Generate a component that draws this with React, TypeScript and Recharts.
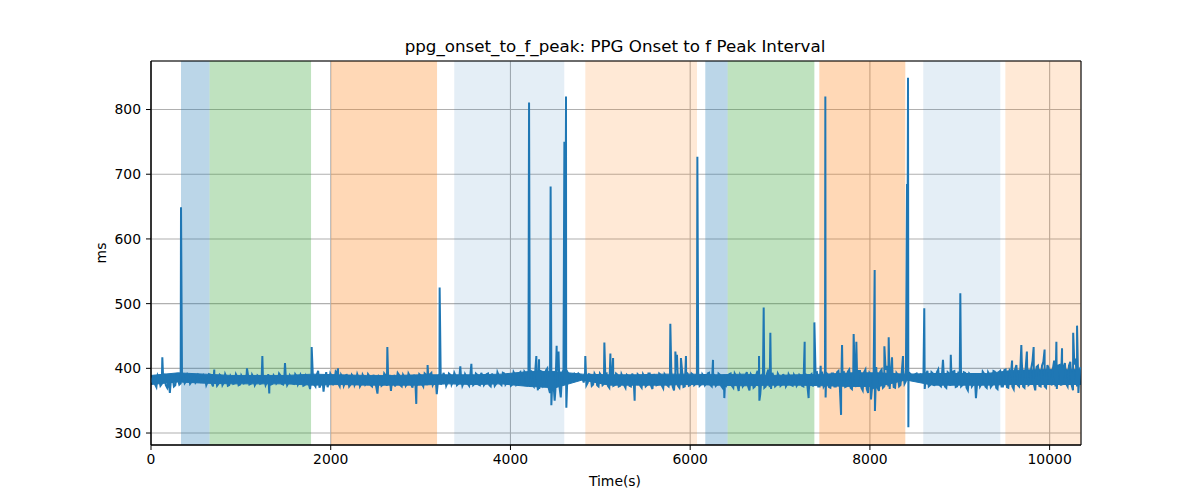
import { ComposedChart, Line, Area, XAxis, YAxis, CartesianGrid, ReferenceArea } from 'recharts'

// baseline readings, one every 30 s starting at t = 0
const sampleStep = 30
const baseValues = [
  378, 387, 371, 385, 376, 389, 370, 362, 386, 374, 383, 377, 388, 380, 386, 379, 387, 381, 388, 380,
  386, 379, 390, 372, 385, 376, 388, 378, 386, 374, 384, 377, 387, 375, 385, 379, 389, 376, 386, 378,
  387, 377, 385, 379, 388, 376, 386, 380, 389, 375, 387, 378, 385, 376, 388, 379, 386, 374, 383, 368,
  392, 372, 396, 375, 364, 394, 378, 388, 380, 392, 372, 386, 378, 384, 375, 387, 379, 385, 376, 386,
  378, 388, 372, 384, 361, 386, 375, 389, 378, 365, 387, 378, 390, 372, 386, 376, 388, 370, 385, 377,
  389, 372, 390, 376, 393, 378, 360, 392, 380, 387, 378, 390, 380, 388, 376, 386, 378, 387, 373, 388,
  376, 390, 374, 388, 377, 392, 372, 386, 376, 389, 374, 392, 378, 386, 375, 390, 378, 394, 376, 392,
  380, 397, 372, 398, 368, 395, 376, 400, 362, 392, 366, 402, 355, 398, 370, 390, 386, 392, 388, 390,
  385, 392, 378, 390, 375, 388, 372, 389, 376, 392, 370, 387, 374, 390, 373, 386, 370, 388, 372, 385,
  376, 389, 370, 387, 374, 392, 368, 386, 375, 390, 369, 388, 372, 395, 366, 398, 370, 396, 372, 392,
  374, 390, 376, 392, 375, 388, 377, 393, 372, 388, 375, 390, 370, 384, 378, 392, 370, 388, 365, 386,
  375, 394, 366, 388, 372, 396, 360, 392, 372, 398, 368, 386, 374, 388, 375, 385, 376, 387, 373, 386,
  376, 388, 372, 390, 365, 391, 378, 394, 372, 393, 376, 390, 370, 392, 372, 396, 368, 394, 372, 398,
  368, 400, 372, 396, 366, 398, 362, 390, 370, 402, 365, 398, 372, 404, 368, 396, 370, 390, 374, 398,
  380, 384, 390, 386, 392, 384, 388, 368, 396, 374, 392, 378, 398, 372, 395, 370, 392, 374, 396, 372,
  390, 374, 393, 366, 390, 375, 354, 388, 376, 392, 370, 390, 374, 395, 368, 396, 372, 398, 370, 392,
  368, 405, 372, 410, 370, 402, 376, 412, 366, 404, 372, 410, 370, 400, 375, 412, 368, 405, 374, 408,
  372, 410, 366, 415, 362,
]

// readings halfway between the baseline ones (t = 15 + 30 i)
const midValues = [
  385, 375, 389, 373, 386, 374, 381, 388, 372, 387, 375, 389, 377, 390, 376, 385, 378, 390, 379, 389,
  374, 391, 377, 389, 373, 390, 374, 391, 373, 388, 376, 391, 374, 389, 377, 392, 375, 390, 374, 389,
  376, 390, 374, 391, 375, 389, 377, 392, 376, 390, 374, 389, 377, 391, 375, 390, 373, 388, 376, 386,
  375, 390, 370, 388, 382, 371, 392, 374, 395, 376, 390, 373, 391, 372, 390, 374, 391, 372, 390, 375,
  391, 374, 390, 372, 388, 373, 392, 373, 390, 384, 372, 393, 374, 390, 373, 392, 375, 390, 372, 391,
  376, 392, 374, 391, 374, 389, 384, 375, 393, 373, 392, 375, 393, 374, 392, 373, 391, 376, 392, 374,
  392, 375, 393, 374, 391, 374, 392, 373, 394, 376, 393, 375, 392, 373, 394, 375, 392, 377, 395, 374,
  392, 375, 394, 366, 396, 373, 397, 370, 398, 364, 396, 372, 392, 378, 394, 385, 391, 387, 392, 389,
  378, 374, 391, 373, 392, 374, 392, 374, 391, 373, 391, 373, 392, 372, 391, 374, 390, 373, 392, 375,
  391, 373, 391, 372, 392, 373, 391, 374, 392, 373, 391, 374, 392, 372, 394, 373, 392, 371, 394, 373,
  392, 374, 393, 373, 391, 374, 392, 374, 392, 373, 392, 373, 390, 374, 391, 373, 392, 374, 390, 372,
  389, 372, 391, 370, 390, 372, 388, 370, 392, 371, 393, 372, 392, 373, 391, 372, 391, 374, 390, 373,
  390, 373, 392, 372, 389, 372, 393, 372, 392, 372, 393, 371, 392, 372, 394, 372, 393, 371, 395, 370,
  394, 371, 396, 370, 394, 368, 393, 372, 396, 370, 395, 370, 398, 372, 396, 371, 393, 372, 395, 376,
  390, 392, 385, 391, 386, 390, 380, 391, 372, 394, 373, 394, 374, 396, 372, 394, 373, 395, 371, 395,
  372, 394, 370, 392, 372, 392, 380, 372, 395, 372, 394, 371, 396, 370, 394, 372, 397, 371, 396, 372,
  398, 374, 402, 372, 404, 374, 400, 375, 402, 373, 404, 372, 405, 376, 398, 372, 404, 373, 402, 376,
  404, 374, 406, 372, 398,
]

// spikes / dips read between the regular samples
const extraTimes = [
  126, 334, 704, 1068, 1239, 1316, 1491, 1788, 2081, 2630, 2952, 3078, 3212, 3442, 3565,
  4207, 4288, 4318, 4447, 4455, 4492, 4514, 4535, 4600, 4618, 4622, 4833, 5045, 5112, 5142,
  5382, 5779, 5835, 5853, 5897, 5953, 6080, 6254, 6380, 6766, 6770, 6818, 6892, 7274, 7318,
  7382, 7452, 7504, 7507, 7679, 7690, 7819, 7849, 8012, 8053, 8056, 8161, 8209, 8246, 8368,
  8413, 8424, 8428, 8605, 8813, 8900, 9006, 9582, 9685, 9747, 9822, 9944, 10075, 10138, 10262,
  10305, 10345,
]
const extraValues = [
  417, 649, 398, 400, 419, 361, 408, 433, 400, 433, 345, 405, 525, 403, 407,
  811, 419, 414, 681, 343, 350, 435, 426, 750, 820, 339, 419, 440, 423, 416,
  350, 469, 426, 421, 416, 419, 727, 413, 354, 419, 350, 494, 455, 441, 354,
  471, 404, 820, 355, 328, 436, 453, 441, 352, 552, 334, 434, 448, 417, 419,
  685, 849, 309, 493, 413, 421, 516, 412, 436, 426, 433, 429, 441, 431, 455,
  466, 402,
]

// dense core of the trace (where the samples overlap into a solid band), every 300 s
const bandStep = 300
const bandLow = [
  375, 379, 377, 376, 376, 376, 374, 375, 374, 374, 374, 376, 375, 376, 372, 370, 382, 374,
  374, 374, 375, 374, 373, 374, 374, 373, 372, 372, 382, 374, 374, 374, 375, 375, 375, 375,
]
const bandHigh = [
  389, 393, 391, 389, 389, 389, 391, 390, 389, 389, 390, 390, 390, 391, 395, 395, 391, 390,
  390, 391, 391, 390, 391, 389, 390, 391, 393, 393, 391, 392, 392, 392, 397, 398, 398, 398,
]

// shaded phases
const spanStarts = [334, 652, 2003, 3375, 4833, 6168, 6417, 7437, 8594, 9507]
const spanEnds = [652, 1781, 3183, 4599, 6076, 6417, 7382, 8394, 9451, 10349]
const spanColors = ['#1f77b4', '#2ca02c', '#ff7f0e', '#1f77b4', '#ff7f0e', '#1f77b4', '#2ca02c', '#ff7f0e', '#1f77b4', '#ff7f0e']
const spanAlphas = [0.3, 0.3, 0.3, 0.12, 0.17, 0.3, 0.3, 0.3, 0.12, 0.17]

const xTicks = [0, 2000, 4000, 6000, 8000, 10000]
const yTicks = [300, 400, 500, 600, 700, 800]
const xDomain = [0, 10349]
const yDomain = [281.5, 875]

const data = [
  ...baseValues.map((v, i) => ({ t: i * sampleStep, v })),
  ...midValues.map((v, i) => ({ t: i * sampleStep + sampleStep / 2, v })),
  ...extraTimes.map((t, i) => ({ t, v: extraValues[i] })),
].sort((a, b) => a.t - b.t)

const bandData = bandLow.map((lo, i) => ({ t: Math.min(i * bandStep, xDomain[1]), band: [lo, bandHigh[i]] }))

const tickStyle = { fill: '#000', fontSize: 13.9 }

export default function App() {
  return (
    <div
      style={{
        position: 'absolute',
        left: 0,
        top: 0,
        width: 1200,
        height: 500,
        background: '#fff',
        fontFamily: '"DejaVu Sans", sans-serif',
      }}
    >
      <ComposedChart width={1200} height={500} data={data} margin={{ top: 61, right: 119, bottom: 10, left: 91 }}>
        <CartesianGrid stroke="#b0b0b0" strokeWidth={1.1} />
        {spanStarts.map((s, i) => (
          <ReferenceArea
            key={i}
            x1={s}
            x2={spanEnds[i]}
            y1={yDomain[0]}
            y2={yDomain[1]}
            fill={spanColors[i]}
            fillOpacity={spanAlphas[i]}
            stroke="none"
          />
        ))}
        <XAxis
          dataKey="t"
          type="number"
          domain={xDomain}
          ticks={xTicks}
          allowDataOverflow
          height={45}
          tickSize={5}
          tickMargin={4}
          tick={tickStyle}
          axisLine={{ stroke: '#000' }}
          tickLine={{ stroke: '#000' }}
        />
        <YAxis
          type="number"
          domain={yDomain}
          ticks={yTicks}
          allowDataOverflow
          width={60}
          tickSize={5}
          tickMargin={5}
          tick={tickStyle}
          axisLine={{ stroke: '#000' }}
          tickLine={{ stroke: '#000' }}
        />
        <Area
          data={bandData}
          dataKey="band"
          type="linear"
          stroke="#1f77b4"
          strokeWidth={1}
          fill="#1f77b4"
          fillOpacity={1}
          isAnimationActive={false}
        />
        <Line type="linear" dataKey="v" stroke="#1f77b4" strokeWidth={2} dot={false} isAnimationActive={false} />
        <ReferenceArea x1={xDomain[0]} x2={xDomain[1]} y1={yDomain[0]} y2={yDomain[1]} fill="none" stroke="#000" strokeWidth={1} />
      </ComposedChart>
      <svg width={1200} height={500} style={{ position: 'absolute', left: 0, top: 0, pointerEvents: 'none' }}>
        <text x={615} y={52.4} textAnchor="middle" fontSize={16.7} fill="#000">
          ppg_onset_to_f_peak: PPG Onset to f Peak Interval
        </text>
        <text x={615} y={485.5} textAnchor="middle" fontSize={13.9} fill="#000">
          Time(s)
        </text>
        <text x={106} y={253} textAnchor="middle" fontSize={13.9} fill="#000" transform="rotate(-90 106 253)">
          ms
        </text>
      </svg>
    </div>
  )
}
